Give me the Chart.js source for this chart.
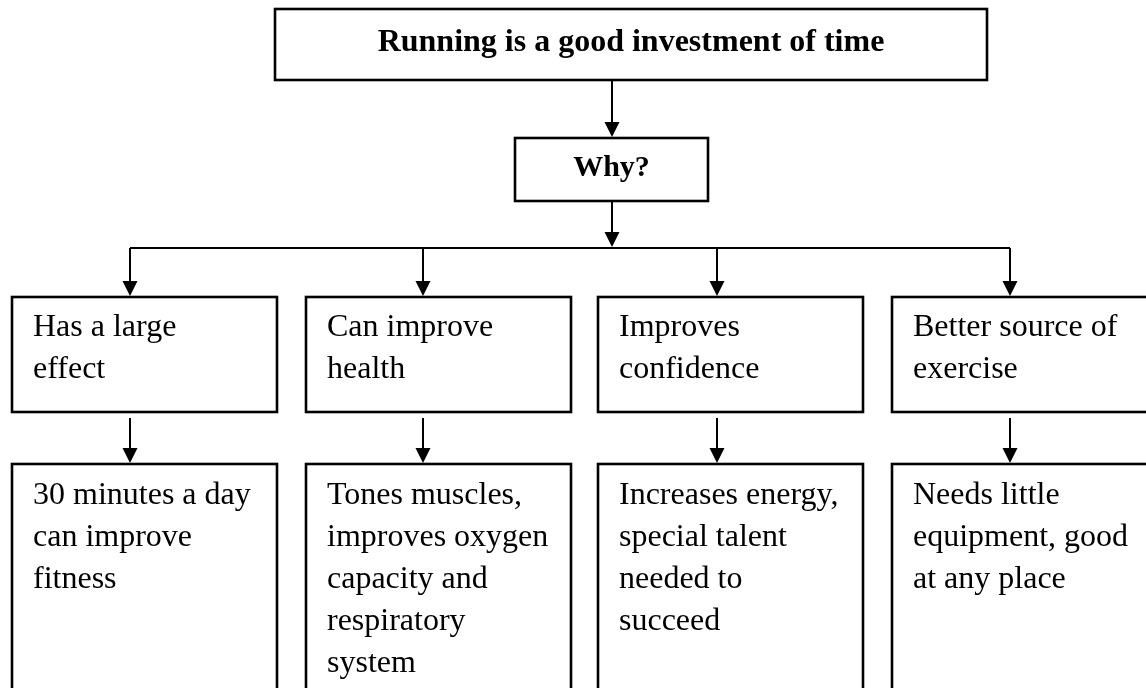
<!DOCTYPE html>
<html>
<head>
<meta charset="utf-8">
<script src="https://cdn.jsdelivr.net/npm/chart.js@4/dist/chart.umd.min.js"></script>
<style>
  html, body { margin: 0; padding: 0; background: #ffffff; }
  #wrap { width: 1146px; height: 688px; position: relative; }
</style>
</head>
<body>
<div id="wrap"><canvas id="c"></canvas></div>
<script>
// ---- content (data) ----
const titleText = 'Running is a good investment of time';
const questionText = 'Why?';
const reasonLines = [
  ['Has a large', 'effect'],
  ['Can improve', 'health'],
  ['Improves', 'confidence'],
  ['Better source of', 'exercise']
];
const detailLines = [
  ['30 minutes a day', 'can improve', 'fitness'],
  ['Tones muscles,', 'improves oxygen', 'capacity and', 'respiratory', 'system'],
  ['Increases energy,', 'special talent', 'needed to', 'succeed'],
  ['Needs little', 'equipment, good', 'at any place']
];

// ---- layout (diagram coordinates, mapped through the chart scales) ----
const layout = {
  topBox: { x0: 275, x1: 987, y0: 9, y1: 80, textY: 43 },
  whyBox: { x0: 515, x1: 708, y0: 138, y1: 201, textY: 168 },
  stemX: 612,
  busY: 248,
  colLeft: [12, 306, 598, 892],
  colWidth: 265,
  arrowX: [130, 423, 717, 1010],
  row2: { y0: 297, y1: 412, textY: 328 },
  row3: { y0: 464, y1: 720, textY: 496 },
  textInset: 21,
  lineGap: 42,
  arrowHeadW: 15,
  arrowHeadH: 15
};
const styles = {
  ink: '#000000',
  lineWidth: 2,
  boxWidth: 2.6,
  titleFont: 'bold 32px "Liberation Serif", "Times New Roman", serif',
  boldFont: 'bold 30px "Liberation Serif", "Times New Roman", serif',
  bodyFont: '32px "Liberation Serif", "Times New Roman", serif'
};

const flowPlugin = {
  id: 'flow',
  beforeDraw(chart) {
    const ctx = chart.ctx;
    ctx.save();
    ctx.fillStyle = '#ffffff';
    ctx.fillRect(0, 0, chart.width, chart.height);
    ctx.restore();
  },
  afterDatasetsDraw(chart) {
    const ctx = chart.ctx;
    const xs = chart.scales.x, ys = chart.scales.y;
    const X = v => xs.getPixelForValue(v);
    const Y = v => ys.getPixelForValue(v);

    function box(x0, y0, x1, y1) {
      ctx.save();
      ctx.strokeStyle = styles.ink;
      ctx.lineWidth = styles.boxWidth;
      ctx.strokeRect(X(x0), Y(y0), X(x1) - X(x0), Y(y1) - Y(y0));
      ctx.restore();
    }
    function line(pts) {
      ctx.save();
      ctx.strokeStyle = styles.ink;
      ctx.lineWidth = styles.lineWidth;
      ctx.beginPath();
      pts.forEach((p, i) => i ? ctx.lineTo(X(p[0]), Y(p[1])) : ctx.moveTo(X(p[0]), Y(p[1])));
      ctx.stroke();
      ctx.restore();
    }
    function arrow(x, yFrom, yTo) {
      const w = layout.arrowHeadW, h = layout.arrowHeadH;
      line([[x, yFrom], [x, yTo - h + 1]]);
      ctx.save();
      ctx.fillStyle = styles.ink;
      ctx.beginPath();
      ctx.moveTo(X(x), Y(yTo));
      ctx.lineTo(X(x - w / 2), Y(yTo - h));
      ctx.lineTo(X(x + w / 2), Y(yTo - h));
      ctx.closePath();
      ctx.fill();
      ctx.restore();
    }
    function text(str, x, y, font, align) {
      ctx.save();
      ctx.fillStyle = styles.ink;
      ctx.font = font;
      ctx.textAlign = align;
      ctx.textBaseline = 'middle';
      ctx.fillText(str, X(x), Y(y));
      ctx.restore();
    }

    const T = layout.topBox, W = layout.whyBox;
    box(T.x0, T.y0, T.x1, T.y1);
    text(titleText, (T.x0 + T.x1) / 2, T.textY, styles.titleFont, 'center');

    arrow(layout.stemX, T.y1, W.y0 - 1);
    box(W.x0, W.y0, W.x1, W.y1);
    text(questionText, (W.x0 + W.x1) / 2, W.textY, styles.boldFont, 'center');

    arrow(layout.stemX, W.y1, layout.busY - 1);
    const ax = layout.arrowX;
    line([[ax[0], layout.busY], [ax[ax.length - 1], layout.busY]]);

    reasonLines.forEach((lines, i) => {
      const left = layout.colLeft[i];
      const r2 = layout.row2, r3 = layout.row3;
      arrow(ax[i], layout.busY, r2.y0 - 1);
      box(left, r2.y0, left + layout.colWidth, r2.y1);
      lines.forEach((s, k) => text(s, left + layout.textInset, r2.textY + k * layout.lineGap, styles.bodyFont, 'left'));

      arrow(ax[i], r2.y1 + 6, r3.y0 - 1);
      box(left, r3.y0, left + layout.colWidth, r3.y1);
      detailLines[i].forEach((s, k) => text(s, left + layout.textInset, r3.textY + k * layout.lineGap, styles.bodyFont, 'left'));
    });
  }
};

new Chart(document.getElementById('c'), {
  type: 'scatter',
  data: { datasets: [{ data: [], pointRadius: 0 }] },
  options: {
    responsive: true,
    maintainAspectRatio: false,
    animation: false,
    layout: { padding: 0 },
    plugins: { legend: { display: false }, tooltip: { enabled: false } },
    scales: {
      x: { type: 'linear', min: 0, max: 1146, display: false },
      y: { type: 'linear', min: 0, max: 688, reverse: true, display: false }
    }
  },
  plugins: [flowPlugin]
});
</script>
</body>
</html>
